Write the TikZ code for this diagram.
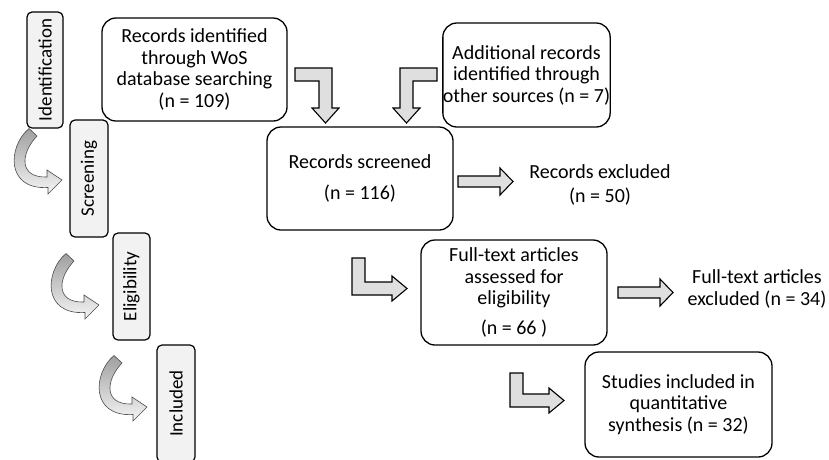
\documentclass[tikz,border=0pt]{standalone}
\usepackage{fontspec}
\setmainfont{Carlito}
\begin{document}
\begin{tikzpicture}[x=1pt,y=-1pt,
        font={\fontsize{20}{21.5}\selectfont},
        box/.style={draw, rounded corners=14pt, line width=1.3pt, align=center, inner sep=0pt},
        stage/.style={draw, rounded corners=5pt, line width=1.2pt, fill=gray!10, rotate=90, inner sep=0pt,
            font={\fontsize{19}{21}\selectfont}},
        blockarrow/.style={draw, line width=1.1pt, fill=gray!25},
        turnarrow/.style={draw=black!70, line width=0.6pt, top color=gray!75, bottom color=gray!8}]
        \useasboundingbox (0,0) rectangle (829,459);

        % phases on the left
        \node[stage, minimum width=116pt, minimum height=36pt] (ident) at (45,70) {Identification};
        \node[stage, minimum width=117pt, minimum height=38pt] (screen) at (89,178.5) {Screening};
        \node[stage, minimum width=107pt, minimum height=37pt] (elig) at (131.5,286.5) {Eligibility};
        \node[stage, minimum width=117pt, minimum height=38pt] (incl) at (176,403.5) {Included};

        \foreach \dx/\dy in {0/0, 37/125, 85/227}
            \draw[turnarrow, shift={(\dx,\dy)}] (29,128.5) .. controls (8,146) and (5,190) .. (48,187.5)
                -- (48,194) -- (62,180) -- (47,170) -- (47,177)
                .. controls (19,178) and (20,154) .. (37,136) -- cycle;

        % records
        \node[box, minimum width=185pt, minimum height=103pt] (wos) at (194.5,69.5)
            {Records identified\\through WoS\\database searching\\(n = 109)};
        \node[box, minimum width=167pt, minimum height=104pt] (other) at (526.5,75)
            {Additional records\\identified through\\other sources (n = 7)};
        \node[box, minimum width=186pt, minimum height=103pt] (screened) at (360,178.5)
            {Records screened\\[10pt](n = 116)};
        \node[align=center] (excl) at (600,185) {Records excluded\\[3pt](n = 50)};

        \draw[blockarrow] (295,68) -- (332,68) -- (332,108) -- (339,108) -- (325.5,123)
            -- (312,108) -- (319,108) -- (319,81) -- (295,81) -- cycle;
        \draw[blockarrow] (437,68) -- (400,68) -- (400,108) -- (393,108) -- (406.5,123)
            -- (420,108) -- (413,108) -- (413,81) -- (437,81) -- cycle;
        \draw[blockarrow] (458,176) -- (500,176) -- (500,168) -- (513,181.5) -- (500,195)
            -- (500,187) -- (458,187) -- cycle;

        % eligibility
        \node[box, minimum width=186pt, minimum height=105pt] (fulltext) at (514,292.5)
            {Full-text articles\\assessed for\\eligibility\\[8pt](n = 66 )};
        \node[align=center] (excl2) at (757,289) {Full-text articles\\excluded (n = 34)};

        \draw[blockarrow] (352,258) -- (365,258) -- (365,282) -- (392,282) -- (392,276)
            -- (407,288.5) -- (392,301) -- (392,295) -- (352,295) -- cycle;
        \draw[blockarrow] (618,287) -- (660,287) -- (660,279) -- (673,292.5) -- (660,306)
            -- (660,298) -- (618,298) -- cycle;

        % included
        \node[box, minimum width=187pt, minimum height=105pt] (studies) at (678.5,404.5)
            {Studies included in\\quantitative\\synthesis (n = 32)};

        \draw[blockarrow] (510,373) -- (523,373) -- (523,394) -- (549,394) -- (549,388)
            -- (564,400.5) -- (549,413) -- (549,407) -- (510,407) -- cycle;

    \end{tikzpicture}
\end{document}
